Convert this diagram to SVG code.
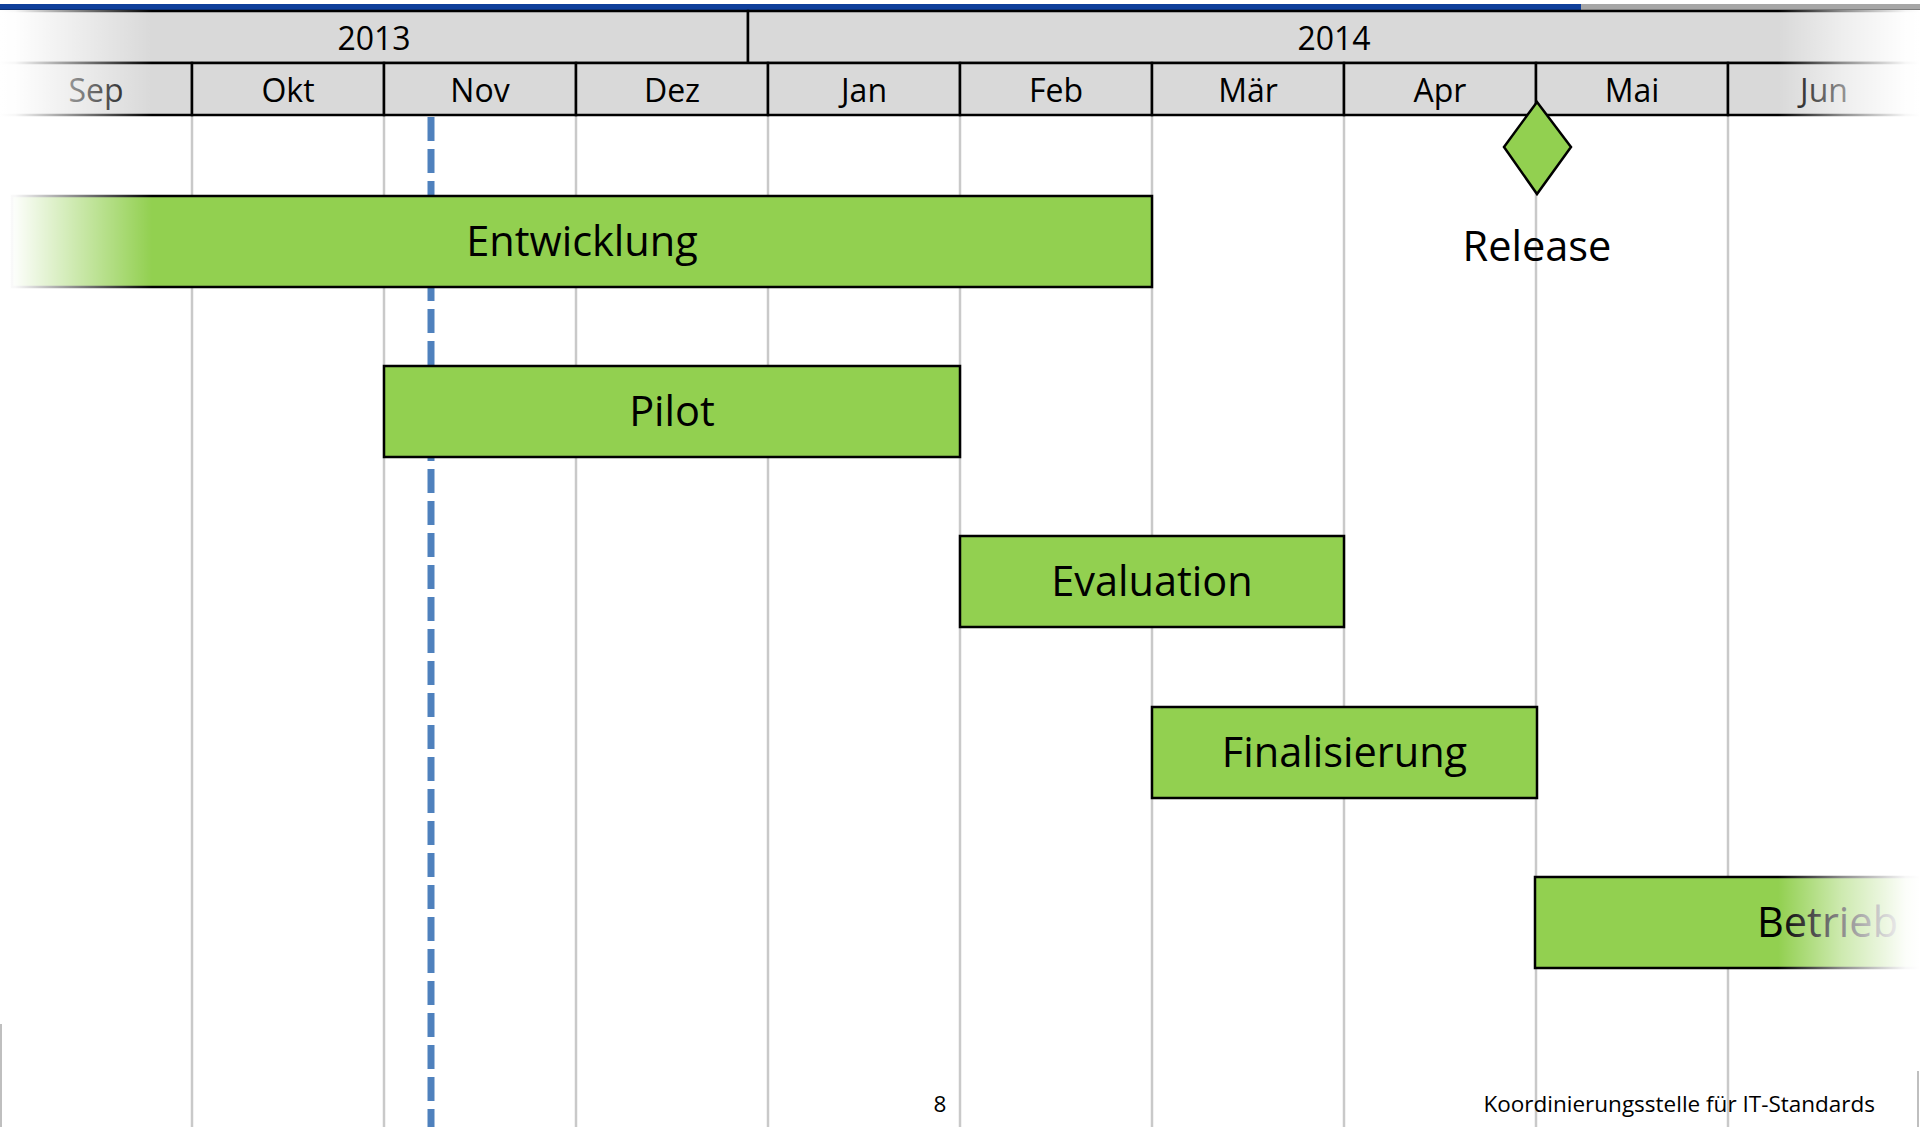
<svg xmlns="http://www.w3.org/2000/svg" width="1920" height="1127" viewBox="0 0 1920 1127">
<defs>
<style>
.hdr{fill:#d9d9d9;stroke:#000;stroke-width:2.5}
.htx{font-family:"Open Sans","Noto Sans",sans-serif;font-size:32px;fill:#000;text-anchor:middle}
.grid{stroke:#c9c9c9;stroke-width:2.5}
.bar{fill:#92d050;stroke:#000;stroke-width:2.5}
.btx{font-family:"Open Sans","Noto Sans",sans-serif;font-size:41.5px;fill:#000;text-anchor:middle}
.ftx{font-family:"Open Sans","Noto Sans",sans-serif;font-size:22.5px;fill:#000}
</style>
<linearGradient id="fadeL" x1="0" y1="0" x2="1" y2="0">
<stop offset="0" stop-color="#fff" stop-opacity="1"/>
<stop offset="0.1" stop-color="#fff" stop-opacity="0.97"/>
<stop offset="1" stop-color="#fff" stop-opacity="0"/>
</linearGradient>
<linearGradient id="fadeR" x1="0" y1="0" x2="1" y2="0">
<stop offset="0" stop-color="#fff" stop-opacity="0"/>
<stop offset="0.45" stop-color="#fff" stop-opacity="0.55"/>
<stop offset="0.9" stop-color="#fff" stop-opacity="0.97"/>
<stop offset="1" stop-color="#fff" stop-opacity="1"/>
</linearGradient>
</defs>
<rect x="0" y="0" width="1920" height="1127" fill="#fff"/>
<rect x="0" y="4" width="1581" height="6" fill="#0f3f9b"/>
<rect x="1581" y="4" width="339" height="6" fill="#a6a6a6"/>

<g id="grid">
<line class="grid" x1="192" y1="116" x2="192" y2="1127"/>
<line class="grid" x1="384" y1="116" x2="384" y2="1127"/>
<line class="grid" x1="576" y1="116" x2="576" y2="1127"/>
<line class="grid" x1="768" y1="116" x2="768" y2="1127"/>
<line class="grid" x1="960" y1="116" x2="960" y2="1127"/>
<line class="grid" x1="1152" y1="116" x2="1152" y2="1127"/>
<line class="grid" x1="1344" y1="116" x2="1344" y2="1127"/>
<line class="grid" x1="1536" y1="116" x2="1536" y2="1127"/>
<line class="grid" x1="1728" y1="116" x2="1728" y2="1127"/>
<line x1="1" y1="1024" x2="1" y2="1127" stroke="#bfbfbf" stroke-width="2"/>
<line x1="1918" y1="1071" x2="1918" y2="1127" stroke="#bfbfbf" stroke-width="2"/>
</g>

<g id="today">
<line x1="431" y1="117" x2="431" y2="1127" stroke="#4f81bd" stroke-width="7" stroke-dasharray="24 8"/>
</g>

<g id="header">
<rect class="hdr" x="-5" y="11" width="753" height="52"/>
<rect class="hdr" x="748" y="11" width="1180" height="52"/>
<text class="htx" x="374" y="50">2013</text>
<text class="htx" x="1334" y="50">2014</text>
<rect class="hdr" x="-5" y="63" width="197" height="52"/>
<rect class="hdr" x="192" y="63" width="192" height="52"/>
<rect class="hdr" x="384" y="63" width="192" height="52"/>
<rect class="hdr" x="576" y="63" width="192" height="52"/>
<rect class="hdr" x="768" y="63" width="192" height="52"/>
<rect class="hdr" x="960" y="63" width="192" height="52"/>
<rect class="hdr" x="1152" y="63" width="192" height="52"/>
<rect class="hdr" x="1344" y="63" width="192" height="52"/>
<rect class="hdr" x="1536" y="63" width="192" height="52"/>
<rect class="hdr" x="1728" y="63" width="200" height="52"/>
<text class="htx" x="96" y="102">Sep</text>
<text class="htx" x="288" y="102">Okt</text>
<text class="htx" x="480" y="102">Nov</text>
<text class="htx" x="672" y="102">Dez</text>
<text class="htx" x="864" y="102">Jan</text>
<text class="htx" x="1056" y="102">Feb</text>
<text class="htx" x="1248" y="102">Mär</text>
<text class="htx" x="1440" y="102">Apr</text>
<text class="htx" x="1632" y="102">Mai</text>
<text class="htx" x="1824" y="102">Jun</text>
</g>

<g id="entwicklung">
<rect class="bar" x="12" y="196" width="1140" height="91"/>
<text class="btx" x="582" y="256">Entwicklung</text>
</g>
<g id="pilot">
<rect class="bar" x="384" y="366" width="576" height="91"/>
<text class="btx" x="672" y="426">Pilot</text>
</g>
<g id="evaluation">
<rect class="bar" x="960" y="536" width="384" height="91"/>
<text class="btx" x="1152" y="596">Evaluation</text>
</g>
<g id="finalisierung">
<rect class="bar" x="1152" y="707" width="385" height="91"/>
<text class="btx" x="1344.5" y="767">Finalisierung</text>
</g>
<g id="betrieb">
<rect class="bar" x="1535" y="877" width="400" height="91"/>
<text class="btx" x="1757" y="937" style="text-anchor:start">Betrieb</text>
</g>
<g id="release">
<polygon points="1537,102 1571,147 1537,194 1504,147" fill="#92d050" stroke="#000" stroke-width="2.5" stroke-linejoin="miter"/>
<text class="btx" x="1537" y="261">Release</text>
</g>

<rect x="0" y="10" width="152" height="300" fill="url(#fadeL)"/>
<rect x="1778" y="10" width="142" height="970" fill="url(#fadeR)"/>

<g id="footer">
<text class="ftx" x="940" y="1112" text-anchor="middle">8</text>
<text class="ftx" x="1875" y="1112" text-anchor="end">Koordinierungsstelle für IT-Standards</text>
</g>
</svg>
